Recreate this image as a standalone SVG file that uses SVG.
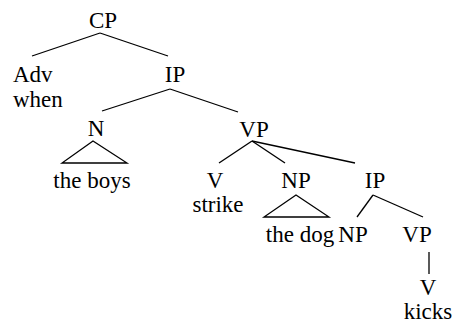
<svg xmlns="http://www.w3.org/2000/svg" width="457" height="324" viewBox="0 0 457 324">
<style>
.m{text-anchor:middle}
line,polygon{stroke:#000;stroke-width:1.3;fill:none}
</style>
<rect width="457" height="324" fill="#fff"/>
<g id="connectors">
<line x1="100" y1="33" x2="32" y2="56"/>
<line x1="100" y1="33" x2="168" y2="56"/>
<line x1="170" y1="89" x2="102" y2="111"/>
<line x1="170" y1="89" x2="238" y2="112"/>
<line x1="252" y1="141" x2="219" y2="163"/>
<line x1="252" y1="141" x2="285" y2="163"/>
<line x1="252" y1="141" x2="355" y2="163"/>
<line x1="373" y1="195" x2="357" y2="217"/>
<line x1="373" y1="195" x2="423" y2="217"/>
<line x1="429" y1="252" x2="429" y2="274"/>
</g>
<g id="cp"><text class="m" x="103" y="28" font-family="Liberation Serif" font-size="23">CP</text></g>
<g id="adv"><text x="13" y="82" font-family="Liberation Serif" font-size="23">Adv</text><text x="13" y="107" font-family="Liberation Serif" font-size="23">when</text></g>
<g id="ip1"><text class="m" x="175" y="82" font-family="Liberation Serif" font-size="23">IP</text></g>
<g id="n"><text class="m" x="96" y="136" font-family="Liberation Serif" font-size="23">N</text><polygon points="93,141 62,163 127,163"/><text class="m" x="92" y="188" font-family="Liberation Serif" font-size="23">the boys</text></g>
<g id="vp1"><text class="m" x="254" y="137" font-family="Liberation Serif" font-size="23">VP</text></g>
<g id="v1"><text class="m" x="215" y="188" font-family="Liberation Serif" font-size="23">V</text><text class="m" x="218" y="212" font-family="Liberation Serif" font-size="23">strike</text></g>
<g id="np1"><text class="m" x="296" y="188" font-family="Liberation Serif" font-size="23">NP</text><polygon points="296,195 264,217 329,217"/><text class="m" x="300" y="242" font-family="Liberation Serif" font-size="23">the dog</text></g>
<g id="ip2"><text class="m" x="375" y="188" font-family="Liberation Serif" font-size="23">IP</text></g>
<g id="np2"><text class="m" x="353" y="242" font-family="Liberation Serif" font-size="23">NP</text></g>
<g id="vp2"><text class="m" x="417" y="242" font-family="Liberation Serif" font-size="23">VP</text></g>
<g id="v2"><text class="m" x="428" y="295" font-family="Liberation Serif" font-size="23">V</text><text class="m" x="428" y="319" font-family="Liberation Serif" font-size="23">kicks</text></g>
</svg>
